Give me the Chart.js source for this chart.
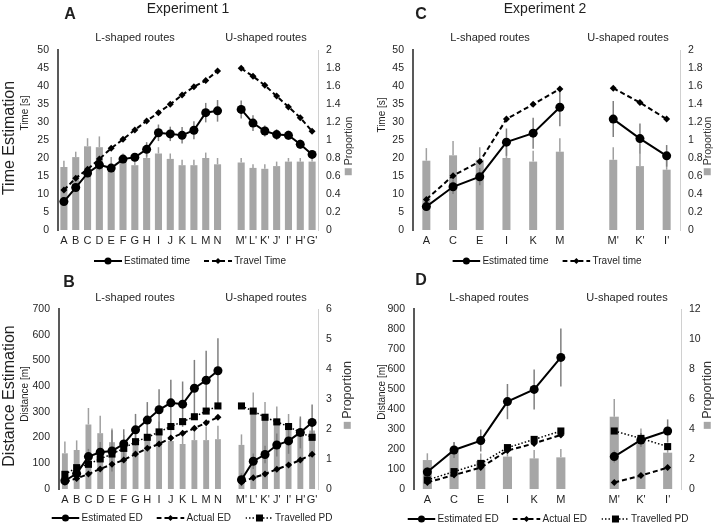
<!DOCTYPE html>
<html>
<head>
<meta charset="utf-8">
<script src="https://cdn.jsdelivr.net/npm/chart.js@4.4.0/dist/chart.umd.min.js"></script>
<style>
  body { margin: 0; background: #fff; font-family: "Liberation Sans", Arial, sans-serif; color: #1f1f1f; }
  #fig { position: relative; width: 714px; height: 523px; overflow: hidden; }
  canvas { position: absolute; }
  .t { position: absolute; white-space: nowrap; line-height: 1; transform: translate(-50%, -50%); }
  .rot { transform: translate(-50%, -50%) rotate(-90deg); }
  .letter { font-weight: bold; font-size: 16px; }
  .exp { font-size: 14px; }
  .group { font-size: 11px; }
  .row { font-size: 16px; }
  .ytitle { font-size: 10px; }
  .prop { font-size: 10.5px; color: #333; }
  .prop.big { font-size: 12.5px; }
  .sq { display: inline-block; width: 7px; height: 7px; background: #a6a6a6; margin-right: 3px; vertical-align: 0px; }
  .legend { position: absolute; display: flex; align-items: center; gap: 14px; font-size: 10px; transform: translateX(-50%); white-space: nowrap; }
  .legend span { display: flex; align-items: center; gap: 2px; }
</style>
</head>
<body>
<div id="fig">
  <canvas id="chartA" width="357" height="270" style="left:0;top:0"></canvas>
  <canvas id="chartC" width="357" height="270" style="left:357px;top:0"></canvas>
  <canvas id="chartB" width="357" height="253" style="left:0;top:270px"></canvas>
  <canvas id="chartD" width="357" height="253" style="left:357px;top:270px"></canvas>

  <div class="t exp" style="left:188px;top:8px">Experiment 1</div>
  <div class="t exp" style="left:545px;top:8px">Experiment 2</div>
  <div class="t letter" style="left:70px;top:14px">A</div>
  <div class="t letter" style="left:421px;top:14px">C</div>
  <div class="t letter" style="left:69px;top:282px">B</div>
  <div class="t letter" style="left:421px;top:280px">D</div>

  <div class="t row rot" style="left:9px;top:138px">Time Estimation</div>
  <div class="t row rot" style="left:9px;top:396px">Distance Estimation</div>

  <div class="t group" style="left:135px;top:37px">L-shaped routes</div>
  <div class="t group" style="left:266px;top:37px">U-shaped routes</div>
  <div class="t group" style="left:490px;top:37px">L-shaped routes</div>
  <div class="t group" style="left:628px;top:37px">U-shaped routes</div>
  <div class="t group" style="left:135px;top:297px">L-shaped routes</div>
  <div class="t group" style="left:266px;top:297px">U-shaped routes</div>
  <div class="t group" style="left:489px;top:297px">L-shaped routes</div>
  <div class="t group" style="left:627px;top:297px">U-shaped routes</div>

  <div class="t ytitle rot" style="left:25px;top:113px">Time [s]</div>
  <div class="t ytitle rot" style="left:382px;top:115px">Time [s]</div>
  <div class="t ytitle rot" style="left:25px;top:394px">Distance [m]</div>
  <div class="t ytitle rot" style="left:382px;top:392px">Distance [m]</div>

  <div class="t prop rot" style="left:348px;top:146px"><span class="sq"></span>Proportion</div>
  <div class="t prop rot" style="left:707px;top:146px"><span class="sq"></span>Proportion</div>
  <div class="t prop big rot" style="left:347px;top:395px"><span class="sq"></span>Proportion</div>
  <div class="t prop big rot" style="left:707px;top:395px"><span class="sq"></span>Proportion</div>

  <div class="legend" id="legA" style="left:190px;top:255px"></div>
  <div class="legend" id="legC" style="left:547px;top:255px"></div>
  <div class="legend" id="legB" style="left:192px;top:512px"></div>
  <div class="legend" id="legD" style="left:548px;top:513px"></div>
</div>

<script>
// ---- Experiment 1 (panels A and B) ----
const labelsExp1 = ['A','B','C','D','E','F','G','H','I','J','K','L','M','N','',"M'","L'","K'","J'","I'","H'","G'"];

const estTimeA    = [7.9,11.8,15.8,18.1,17.2,19.7,20.2,22.4,27,26.7,26.3,27.7,32.6,33.1,null,33.5,29.7,27.5,26.5,26.3,23.8,21];
const estTimeErrA = [0.8,1,1,1.5,1.2,1,1,2,2.3,2,2.3,2.5,2.7,3,null,2.5,2.2,1.5,1.5,1.3,1.3,0.9];
const travelTimeA = [11.1,14.4,16.9,19.7,22.7,25.2,27.8,30.3,32.6,34.9,37.5,39.8,41.5,44.2,null,44.9,42.7,40.2,37.2,34.2,31.2,27.4];
const propA       = [0.70,0.81,0.93,0.92,0.71,0.78,0.72,0.80,0.85,0.79,0.72,0.72,0.80,0.73,null,0.75,0.69,0.68,0.71,0.76,0.76,0.76];
const propErrA    = [0.07,0.06,0.09,0.12,0.1,0.07,0.08,0.07,0.07,0.06,0.06,0.06,0.06,0.07,null,0.05,0.04,0.05,0.05,0.04,0.04,0.04];

const estEDB      = [32,60,126,143,148,175,230,268,308,335,330,392,423,460,null,36,108,134,171,187,220,259];
const estEDErrB   = [20,25,30,40,80,57,62,70,80,90,88,110,115,126,null,25,30,34,45,50,62,70];
const actualEDB   = [28,41,58,78,96,113,136,158,175,198,217,236,258,279,null,26,44,58,77,93,113,135];
const travelPDB   = [57,83,96,117,136,158,184,201,222,243,262,281,303,323,null,323,303,279,261,243,219,201];
const propB       = [1.19,1.3,2.15,1.86,1.56,1.4,1.65,1.75,1.8,1.6,1.5,1.63,1.63,1.66,null,1.47,2.6,2.4,2.25,2.05,1.9,1.95];
const propErrB    = [0.39,0.32,0.55,0.58,0.46,0.4,0.45,0.45,0.45,0.4,0.45,0.45,0.45,0.45,null,0.35,0.62,0.5,0.5,0.45,0.45,0.4];

// ---- Experiment 2 (panels C and D) ----
const labelsExp2 = ['A','C','E','I','K','M','',"M'","K'","I'"];

const estTimeC    = [6.5,12,14.8,24.4,26.9,34.1,null,30.8,25.4,20.6];
const estTimeErrC = [1,2,2.4,3.8,4.3,5.3,null,5,4.2,3];
const travelTimeC = [8.5,15.1,19,30.8,34.9,39.2,null,39.4,35.4,30.8];
const propC       = [0.77,0.83,0.78,0.8,0.76,0.87,null,0.78,0.71,0.67];
const propErrC    = [0.14,0.16,0.14,0.12,0.12,0.15,null,0.14,0.14,0.14];

const estEDD      = [85,195,242,437,498,658,null,162,245,290];
const estEDErrD   = [25,40,55,88,100,145,null,30,35,58];
const actualEDD   = [33,70,107,192,228,270,null,33,67,107];
const travelPDD   = [45,87,128,207,248,290,null,290,253,212];
const propD       = [1.93,2.5,1.87,2.16,2.04,2.11,null,4.82,3.31,2.42];
const propErrD    = [0.45,0.6,0.5,0.5,0.56,0.56,null,1.18,0.73,0.5];

Chart.defaults.font.family = "'Liberation Sans', Arial, sans-serif";
Chart.defaults.font.size = 10.5;
Chart.defaults.color = '#1f1f1f';

// draws vertical error whiskers: lines get theirs under the line, bars on top of the bar
const errorBars = {
  id: 'errorBars',
  beforeDatasetDraw(chart, args) {
    if (chart.data.datasets[args.index].type === 'line') drawErrors(chart, args.index);
  },
  afterDatasetDraw(chart, args) {
    if (chart.data.datasets[args.index].type === 'bar') drawErrors(chart, args.index);
  }
};

function drawErrors(chart, i) {
  const ds = chart.data.datasets[i];
  if (!ds.errors) return;
  const meta = chart.getDatasetMeta(i);
  const ys = chart.scales[ds.yAxisID];
  const ctx = chart.ctx;
  ctx.save();
  ctx.strokeStyle = ds.errorColor;
  ctx.lineWidth = 1.5;
  meta.data.forEach((el, k) => {
    const v = ds.data[k], e = ds.errors[k];
    if (v == null || e == null) return;
    const top = ys.getPixelForValue(v + e);
    const bot = ds.type === 'bar' ? ys.getPixelForValue(v) : ys.getPixelForValue(v - e);
    ctx.beginPath();
    ctx.moveTo(el.x, top);
    ctx.lineTo(el.x, bot);
    ctx.stroke();
  });
  ctx.restore();
}

const styles = {
  est:    { dash: [],     marker: 'circle',  radius: 4.5, width: 2 },
  travel: { dash: [5, 3], marker: 'rectRot', radius: 3.5, width: 2 },
  pd:     { dash: [1.5, 2], marker: 'rect',  radius: 5,   width: 1.5 }
};

function buildChart(id, o) {
  const datasets = o.lines.map(l => {
    const s = styles[l.style];
    return {
      type: 'line', label: l.label, data: l.data, errors: l.err || null, errorColor: '#7f7f7f',
      yAxisID: 'y', borderColor: '#000', backgroundColor: '#000', borderWidth: s.width,
      borderDash: s.dash, pointStyle: s.marker, pointRadius: s.radius, pointBorderWidth: 0,
      spanGaps: false, tension: 0, order: 1
    };
  });
  datasets.push({
    type: 'bar', label: 'Proportion', data: o.bars, errors: o.barErr, errorColor: '#a0a0a0',
    yAxisID: 'y2', backgroundColor: '#a6a6a6', barPercentage: o.barPct, categoryPercentage: 1, order: 5
  });
  return new Chart(document.getElementById(id), {
    type: 'bar',
    data: { labels: o.labels, datasets },
    options: {
      responsive: false,
      animation: false,
      events: [],
      layout: { padding: { top: o.top, bottom: o.bottom, left: o.padLeft, right: 0 } },
      plugins: { legend: { display: false }, tooltip: { enabled: false } },
      scales: {
        x: {
          grid: { display: false, drawTicks: false }, border: { display: false },
          ticks: { padding: 4, maxRotation: 0, autoSkip: false, font: { size: 11 } },
          afterFit: s => { s.height = 18; }
        },
        y: {
          position: 'left', min: 0, max: o.yMax,
          ticks: { stepSize: o.yStep, padding: 9 },
          grid: { display: false, drawTicks: false }, border: { color: '#595959', width: 2 },
          afterFit: s => { s.width = 40; }
        },
        y2: {
          position: 'right', min: 0, max: o.y2Max,
          ticks: { stepSize: o.y2Step, padding: 8, callback: v => String(+v.toFixed(1)) },
          grid: { display: false, drawTicks: false }, border: { color: '#d0d0d0', width: 1 },
          afterFit: s => { s.width = o.y2w; }
        }
      }
    },
    plugins: [errorBars]
  });
}

buildChart('chartA', {
  labels: labelsExp1, top: 50, bottom: 22, padLeft: 18, y2w: 39,
  yMax: 50, yStep: 5, y2Max: 2, y2Step: 0.2, barPct: 0.6,
  bars: propA, barErr: propErrA,
  lines: [
    { label: 'Travel Time', style: 'travel', data: travelTimeA },
    { label: 'Estimated time', style: 'est', data: estTimeA, err: estTimeErrA }
  ]
});

buildChart('chartC', {
  labels: labelsExp2, top: 50, bottom: 22, padLeft: 16, y2w: 34,
  yMax: 50, yStep: 5, y2Max: 2, y2Step: 0.2, barPct: 0.3,
  bars: propC, barErr: propErrC,
  lines: [
    { label: 'Travel time', style: 'travel', data: travelTimeC },
    { label: 'Estimated time', style: 'est', data: estTimeC, err: estTimeErrC }
  ]
});

buildChart('chartB', {
  labels: labelsExp1, top: 39, bottom: 16, padLeft: 19, y2w: 39,
  yMax: 700, yStep: 100, y2Max: 6, y2Step: 1, barPct: 0.5,
  bars: propB, barErr: propErrB,
  lines: [
    { label: 'Actual ED', style: 'travel', data: actualEDB },
    { label: 'Travelled PD', style: 'pd', data: travelPDB },
    { label: 'Estimated ED', style: 'est', data: estEDB, err: estEDErrB }
  ]
});

buildChart('chartD', {
  labels: labelsExp2, top: 39, bottom: 16, padLeft: 17, y2w: 33,
  yMax: 900, yStep: 100, y2Max: 12, y2Step: 2, barPct: 0.34,
  bars: propD, barErr: propErrD,
  lines: [
    { label: 'Actual ED', style: 'travel', data: actualEDD },
    { label: 'Travelled PD', style: 'pd', data: travelPDD },
    { label: 'Estimated ED', style: 'est', data: estEDD, err: estEDErrD }
  ]
});

// legend samples: line + marker, then the label
function sample(style) {
  const s = styles[style];
  const dash = s.dash.length ? ` stroke-dasharray="${s.dash.join(',')}"` : '';
  let mark = '';
  if (s.marker === 'circle') mark = '<circle cx="14" cy="5" r="3.5" fill="#000"/>';
  if (s.marker === 'rectRot') mark = '<polygon points="14,2 17,5 14,8 11,5" fill="#000"/>';
  if (s.marker === 'rect') mark = '<rect x="10.5" y="1.5" width="7" height="7" fill="#000"/>';
  return `<svg width="28" height="10"><line x1="0" y1="5" x2="28" y2="5" stroke="#000" stroke-width="${s.width}"${dash}/>${mark}</svg>`;
}

function legend(id, items) {
  document.getElementById(id).innerHTML = items
    .map(([style, text]) => `<span>${sample(style)}${text}</span>`).join('');
}

legend('legA', [['est', 'Estimated time'], ['travel', 'Travel Time']]);
legend('legC', [['est', 'Estimated time'], ['travel', 'Travel time']]);
legend('legB', [['est', 'Estimated ED'], ['travel', 'Actual ED'], ['pd', 'Travelled PD']]);
legend('legD', [['est', 'Estimated ED'], ['travel', 'Actual ED'], ['pd', 'Travelled PD']]);
</script>
</body>
</html>
